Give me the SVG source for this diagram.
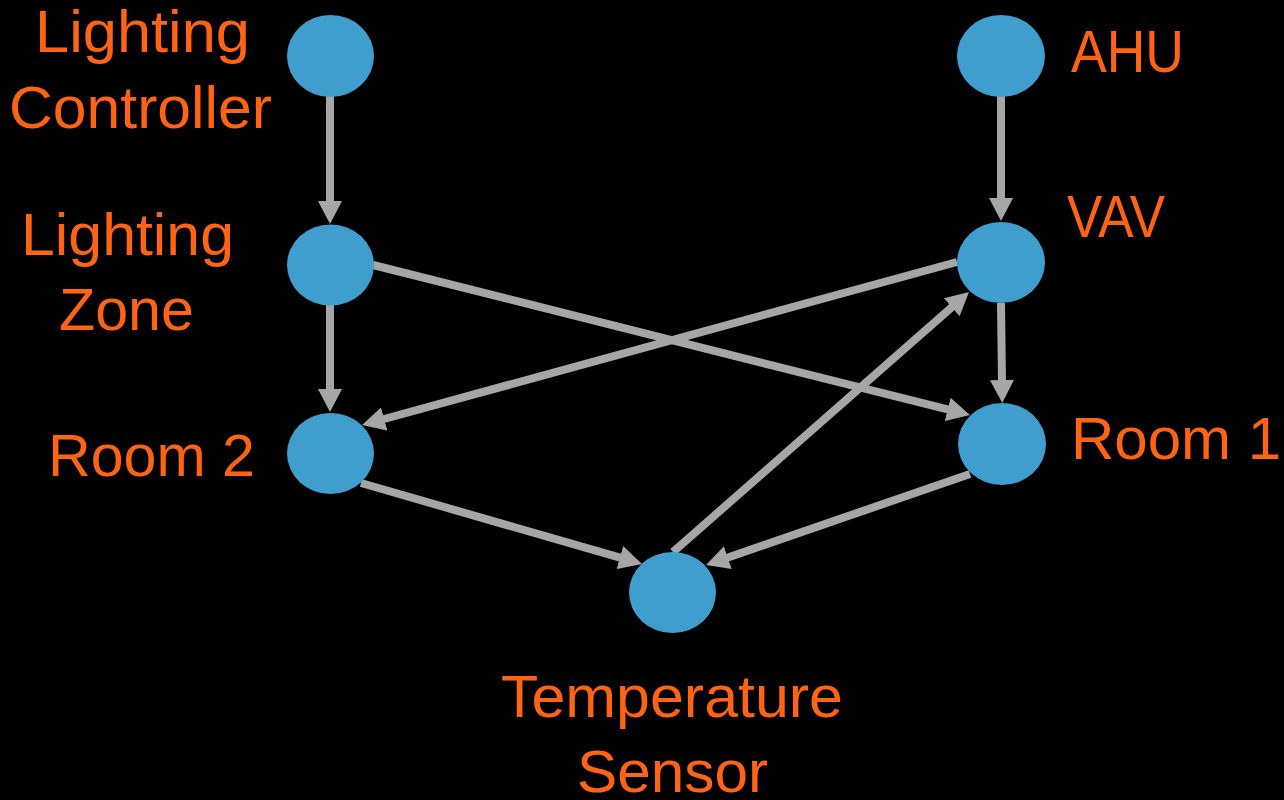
<svg xmlns="http://www.w3.org/2000/svg" width="1284" height="800" viewBox="0 0 1284 800">
<style>
.node{fill:#3F9ECE}
.edge{stroke:#A6A6A6;stroke-width:8;fill:none;marker-end:url(#arr)}
.lbl{fill:#FF6414;font-family:"Liberation Sans",Arial,sans-serif;font-size:60px}
</style>
<defs>
<marker id="arr" viewBox="0 0 23 24" markerWidth="23" markerHeight="24" refX="2" refY="12" orient="auto" markerUnits="userSpaceOnUse">
<path d="M0,0 L23,12 L0,24 z" fill="#A6A6A6"/>
</marker>
</defs>
<rect width="1284" height="800" fill="#000"/>
<g id="connectors">
<line class="edge" x1="330" y1="94" x2="330" y2="203"/>
<line class="edge" x1="1001" y1="96" x2="1001" y2="200"/>
<line class="edge" x1="330" y1="305" x2="330" y2="391"/>
<line class="edge" x1="1001" y1="303" x2="1002" y2="382"/>
<line class="edge" x1="373" y1="265" x2="949.6" y2="409.9"/>
<line class="edge" x1="957" y1="262" x2="382.3" y2="419.5"/>
<line class="edge" x1="361" y1="483" x2="621.8" y2="558.2"/>
<line class="edge" x1="970" y1="474" x2="725.9" y2="558.2"/>
<line class="edge" x1="673" y1="552" x2="953.2" y2="305.9"/>
</g>
<g id="lighting-controller">
<ellipse class="node" cx="330.5" cy="56" rx="43.5" ry="41"/>
<text class="lbl" x="35" y="52" textLength="215" lengthAdjust="spacingAndGlyphs">Lighting</text>
<text class="lbl" x="9" y="128" textLength="263" lengthAdjust="spacingAndGlyphs">Controller</text>
</g>
<g id="lighting-zone">
<ellipse class="node" cx="330.5" cy="265" rx="43.5" ry="40.5"/>
<text class="lbl" x="21" y="255" textLength="213" lengthAdjust="spacingAndGlyphs">Lighting</text>
<text class="lbl" x="59" y="330" textLength="135" lengthAdjust="spacingAndGlyphs">Zone</text>
</g>
<g id="room-2">
<ellipse class="node" cx="330.5" cy="453.5" rx="43.5" ry="40.5"/>
<text class="lbl" x="48" y="476" textLength="207" lengthAdjust="spacingAndGlyphs">Room 2</text>
</g>
<g id="ahu">
<ellipse class="node" cx="1001" cy="56" rx="44" ry="41"/>
<text class="lbl" x="1071" y="72" textLength="113" lengthAdjust="spacingAndGlyphs">AHU</text>
</g>
<g id="vav">
<ellipse class="node" cx="1001" cy="262.5" rx="44" ry="40.5"/>
<text class="lbl" x="1067" y="237" textLength="98" lengthAdjust="spacingAndGlyphs">VAV</text>
</g>
<g id="room-1">
<ellipse class="node" cx="1002" cy="444" rx="44" ry="41"/>
<text class="lbl" x="1071" y="459" textLength="210" lengthAdjust="spacingAndGlyphs">Room 1</text>
</g>
<g id="temperature-sensor">
<ellipse class="node" cx="672.5" cy="592.5" rx="43.5" ry="40.5"/>
<text class="lbl" x="501" y="717" textLength="342" lengthAdjust="spacingAndGlyphs">Temperature</text>
<text class="lbl" x="577" y="792" textLength="191" lengthAdjust="spacingAndGlyphs">Sensor</text>
</g>
</svg>
